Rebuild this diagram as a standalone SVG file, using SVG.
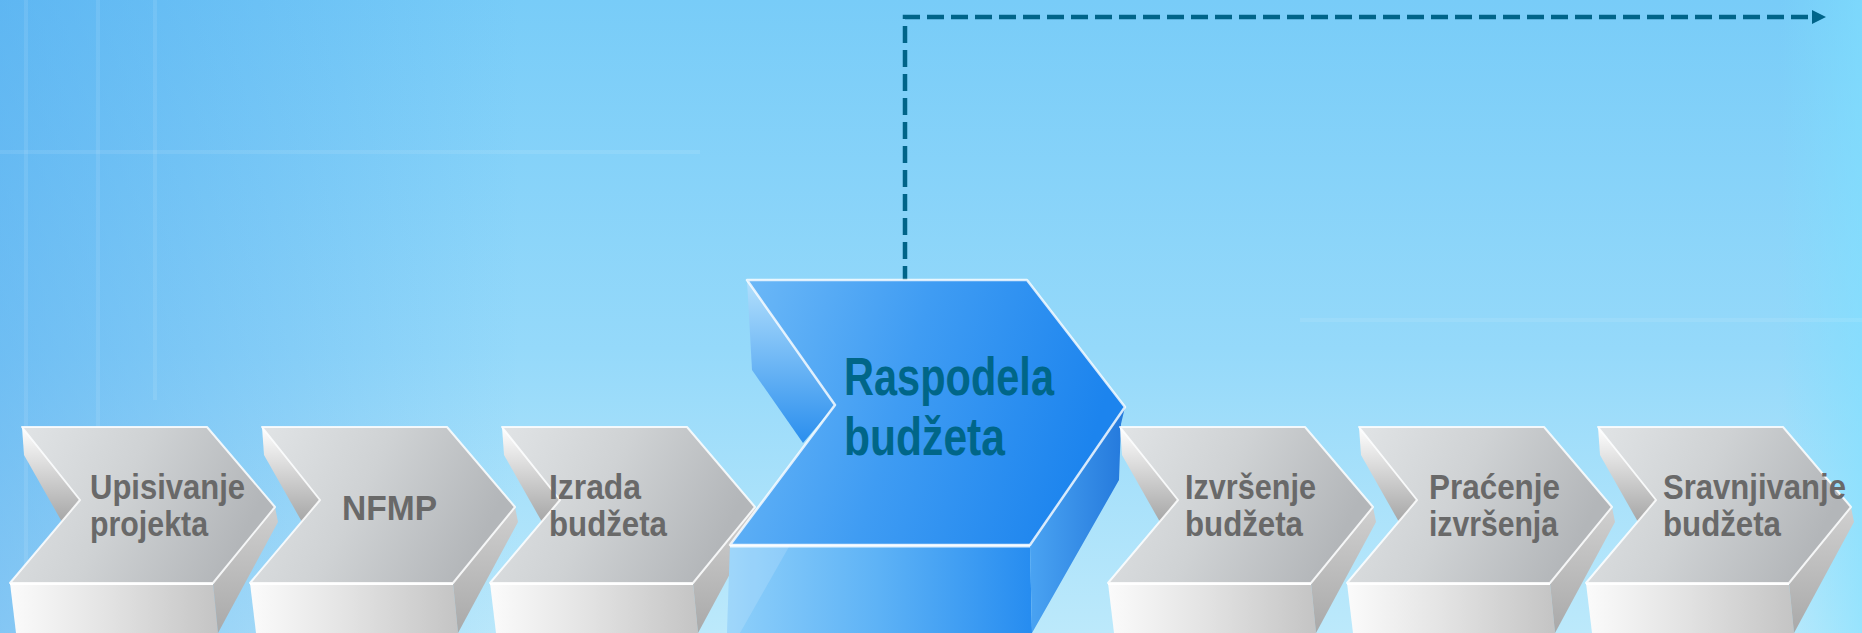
<svg xmlns="http://www.w3.org/2000/svg" width="1862" height="633" viewBox="0 0 1862 633">
<defs>
<linearGradient id="bg" x1="0" y1="0" x2="0" y2="1">
<stop offset="0" stop-color="#78ccf8"/>
<stop offset="0.55" stop-color="#95d9fa"/>
<stop offset="1" stop-color="#bce9fb"/>
</linearGradient>
<linearGradient id="bgLeft" x1="0" y1="0" x2="1" y2="0">
<stop offset="0" stop-color="#3f9ceb" stop-opacity="0.45"/>
<stop offset="1" stop-color="#3f9ceb" stop-opacity="0"/>
</linearGradient>
<linearGradient id="bgRight" x1="0" y1="0" x2="1" y2="0">
<stop offset="0" stop-color="#7fe0ff" stop-opacity="0"/>
<stop offset="1" stop-color="#7fe0ff" stop-opacity="0.6"/>
</linearGradient>
<linearGradient id="gTop" x1="0" y1="0" x2="1" y2="0.3">
<stop offset="0" stop-color="#e2e5e7"/>
<stop offset="0.5" stop-color="#cfd2d4"/>
<stop offset="1" stop-color="#b3b6b9"/>
</linearGradient>
<linearGradient id="gFront" x1="0" y1="0" x2="1" y2="0">
<stop offset="0" stop-color="#fbfbfb"/>
<stop offset="0.45" stop-color="#e4e4e4"/>
<stop offset="1" stop-color="#c4c4c4"/>
</linearGradient>
<linearGradient id="gSide" x1="0" y1="0" x2="0" y2="1">
<stop offset="0" stop-color="#d0d0d0"/>
<stop offset="1" stop-color="#a9a9a9"/>
</linearGradient>
<linearGradient id="gWall" x1="0" y1="0" x2="0" y2="1">
<stop offset="0" stop-color="#ffffff"/>
<stop offset="1" stop-color="#a6a6a6"/>
</linearGradient>
<linearGradient id="bTop" x1="0" y1="0" x2="1" y2="0.2">
<stop offset="0" stop-color="#6fbaf7"/>
<stop offset="0.5" stop-color="#3f9cf3"/>
<stop offset="1" stop-color="#1c84ee"/>
</linearGradient>
<linearGradient id="bFront" x1="0" y1="0" x2="1" y2="0">
<stop offset="0" stop-color="#8fd0fa"/>
<stop offset="0.5" stop-color="#5db2f6"/>
<stop offset="1" stop-color="#268cf0"/>
</linearGradient>
<linearGradient id="bSide" x1="0" y1="0" x2="1" y2="0">
<stop offset="0" stop-color="#4aa3f2"/>
<stop offset="1" stop-color="#2479dc"/>
</linearGradient>
<linearGradient id="bWall" x1="0" y1="0" x2="0" y2="1">
<stop offset="0" stop-color="#b3e0fc"/>
<stop offset="1" stop-color="#2a8eee"/>
</linearGradient>
<marker id="arr" viewBox="0 0 10 10" refX="0" refY="5" markerWidth="14" markerHeight="16" markerUnits="userSpaceOnUse" orient="auto">
<path d="M0,0 L10,5 L0,10 z" fill="#006489"/>
</marker>
<g id="grayChev">
<polygon points="10,583 213,583 218,633 16,633" fill="url(#gFront)"/>
<polygon points="213,583 275,507 278,522 218,633" fill="url(#gSide)"/>
<polygon points="22,427 80,500 62,522 24,455" fill="url(#gWall)"/>
<polygon points="22,427 207,427 275,507 213,583 10,583 80,500" fill="url(#gTop)" stroke="#ffffff" stroke-opacity="0.85" stroke-width="2" stroke-linejoin="round"/>
<line x1="10" y1="584" x2="213" y2="584" stroke="#ffffff" stroke-width="2"/>
</g>
</defs>
<style>
.gt{font-family:"Liberation Sans",Arial,sans-serif;font-weight:bold;font-size:35px;fill:#696969}
.bt{font-family:"Liberation Sans",Arial,sans-serif;font-weight:bold;font-size:53px;fill:#006688}
.conn{fill:none;stroke:#006489;stroke-width:4.5;stroke-dasharray:17 7}
</style>
<g id="background">
<rect x="0" y="0" width="1862" height="633" fill="url(#bg)"/>
<rect x="0" y="0" width="520" height="633" fill="url(#bgLeft)"/>
<rect x="1780" y="0" width="82" height="633" fill="url(#bgRight)"/>
<g stroke="#ffffff" stroke-opacity="0.09" stroke-width="4">
<line x1="26" y1="0" x2="26" y2="633"/>
<line x1="98" y1="0" x2="98" y2="633"/>
<line x1="155" y1="0" x2="155" y2="400"/>
<line x1="0" y1="152" x2="700" y2="152"/>
<line x1="1300" y1="320" x2="1862" y2="320"/>
</g>
</g>
<g id="connectors">
<path class="conn" d="M905,283 V17 H1812" marker-end="url(#arr)"/>
</g>
<g id="node-upisivanje">
<use href="#grayChev"/>
<text class="gt" x="90" y="499" textLength="155" lengthAdjust="spacingAndGlyphs">Upisivanje</text>
<text class="gt" x="90" y="536" textLength="118" lengthAdjust="spacingAndGlyphs">projekta</text>
</g>
<g id="node-nfmp">
<use href="#grayChev" x="240"/>
<text class="gt" x="342" y="520" textLength="95" lengthAdjust="spacingAndGlyphs">NFMP</text>
</g>
<g id="node-izrada">
<use href="#grayChev" x="480"/>
<text class="gt" x="549" y="499" textLength="92" lengthAdjust="spacingAndGlyphs">Izrada</text>
<text class="gt" x="549" y="536" textLength="118" lengthAdjust="spacingAndGlyphs">budžeta</text>
</g>
<g id="node-raspodela">
<polygon points="730,545 1030,545 1032,633 727,633" fill="url(#bFront)"/>
<polygon points="730,545 790,545 740,633 727,633" fill="#ffffff" fill-opacity="0.15"/>
<polygon points="1030,545 1125,407 1121,424 1119,480 1032,633" fill="url(#bSide)"/>
<polygon points="747,280 835,405 803,443 752,370" fill="url(#bWall)"/>
<polygon points="747,280 1027,280 1125,407 1030,545 730,545 835,405" fill="url(#bTop)" stroke="#ffffff" stroke-opacity="0.8" stroke-width="2.5" stroke-linejoin="round"/>
<line x1="730" y1="546" x2="1030" y2="546" stroke="#ffffff" stroke-opacity="0.8" stroke-width="3"/>
<text class="bt" x="844" y="395" textLength="210" lengthAdjust="spacingAndGlyphs">Raspodela</text>
<text class="bt" x="844" y="455" textLength="161" lengthAdjust="spacingAndGlyphs">budžeta</text>
</g>
<g id="node-izvrsenje">
<use href="#grayChev" x="1098"/>
<text class="gt" x="1185" y="499" textLength="131" lengthAdjust="spacingAndGlyphs">Izvršenje</text>
<text class="gt" x="1185" y="536" textLength="118" lengthAdjust="spacingAndGlyphs">budžeta</text>
</g>
<g id="node-pracenje">
<use href="#grayChev" x="1337"/>
<text class="gt" x="1429" y="499" textLength="131" lengthAdjust="spacingAndGlyphs">Praćenje</text>
<text class="gt" x="1429" y="536" textLength="129" lengthAdjust="spacingAndGlyphs">izvršenja</text>
</g>
<g id="node-sravnjivanje">
<use href="#grayChev" x="1576"/>
<text class="gt" x="1663" y="499" textLength="183" lengthAdjust="spacingAndGlyphs">Sravnjivanje</text>
<text class="gt" x="1663" y="536" textLength="118" lengthAdjust="spacingAndGlyphs">budžeta</text>
</g>
</svg>
